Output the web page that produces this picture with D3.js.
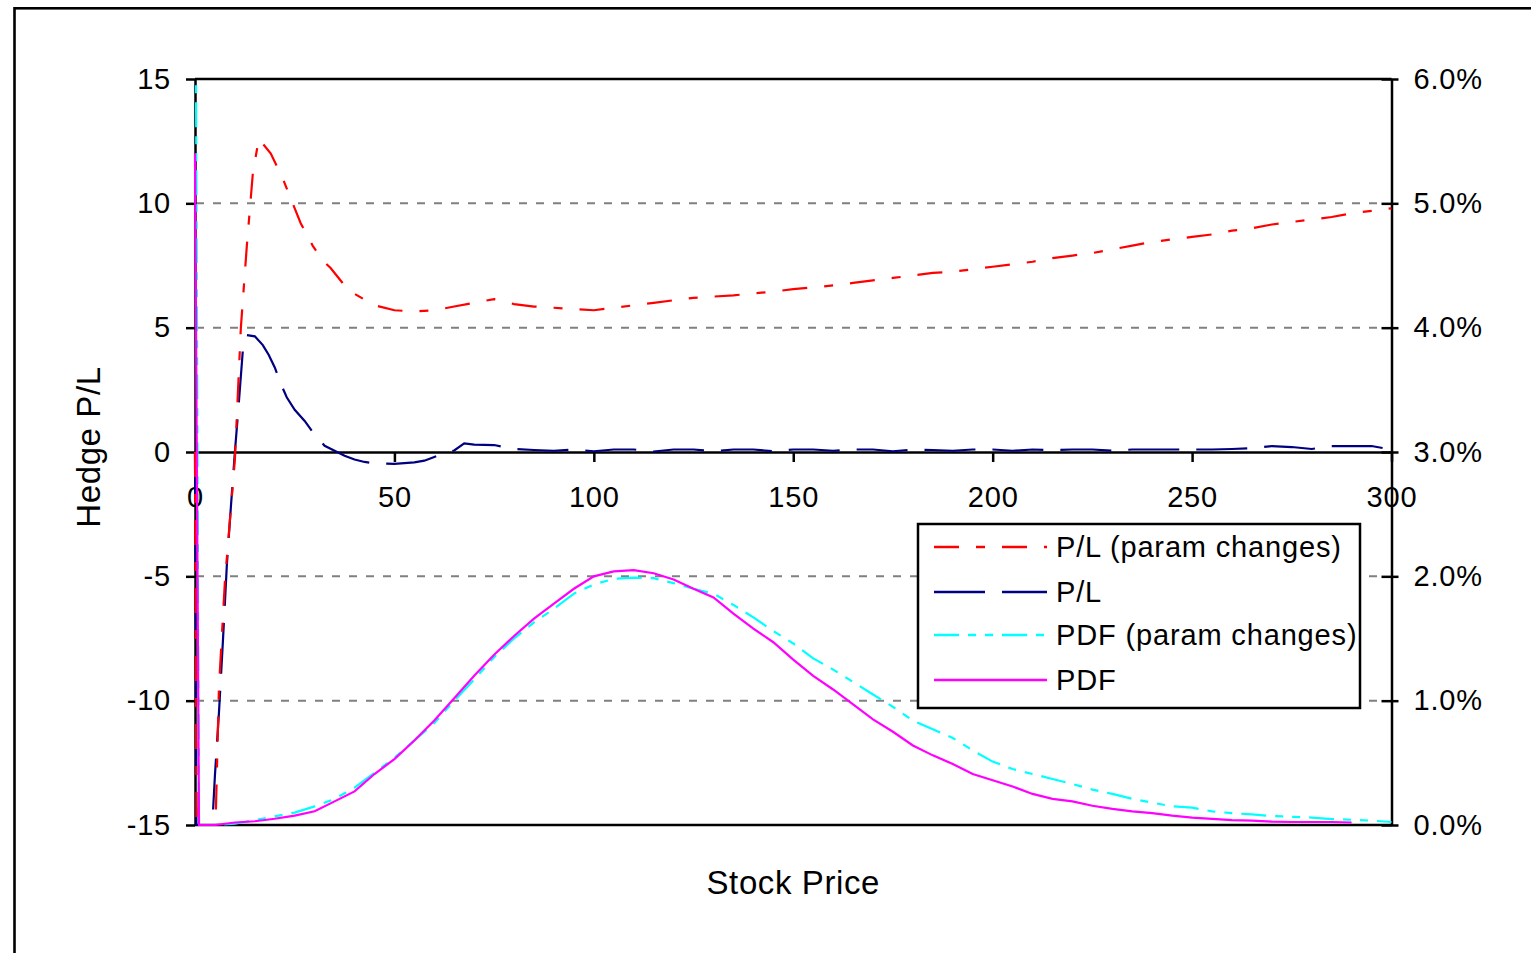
<!DOCTYPE html>
<html>
<head>
<meta charset="utf-8">
<script src="https://cdn.jsdelivr.net/npm/d3@7"></script>
<style>
  body { margin: 0; background: #fff; }
  svg text { font-family: "Liberation Sans", Arial, sans-serif; fill: #000; }
</style>
</head>
<body>
<div id="chart"></div>
<script>
// --- data ---
const pricesPLParam = [0, 1, 5, 6, 7.5, 10, 11.5, 13, 14.5, 16, 19, 22, 24, 26.5, 29.5, 32, 34, 38.5, 45, 50, 55, 60, 65, 70, 75,
  80, 85, 90, 95, 100, 105, 110, 115, 120, 125, 130, 135, 140, 145, 150, 155, 160, 165, 170, 175,
  180, 185, 190, 195, 200, 205, 210, 215, 220, 225, 230, 235, 240, 245, 250, 255, 260, 265, 270, 275,
  280, 285, 290, 295, 300];
const plParam = [0, -40, -16, -9.5, -5.2, -0.3, 5, 8.3, 11.2, 12.6, 12.0, 11.0, 10.2, 9.2, 8.3, 7.7, 7.4, 6.5, 5.9, 5.7, 5.65, 5.7, 5.85, 6.0, 6.15,
  5.95, 5.85, 5.8, 5.75, 5.7, 5.8, 5.9, 6.0, 6.1, 6.2, 6.25, 6.3, 6.38, 6.45, 6.55, 6.62, 6.7, 6.8, 6.9, 7.0,
  7.1, 7.2, 7.25, 7.35, 7.45, 7.55, 7.65, 7.8, 7.9, 8.0, 8.15, 8.3, 8.45, 8.55, 8.65, 8.75, 8.9, 9.0, 9.15, 9.25,
  9.35, 9.45, 9.6, 9.7, 9.8];

const pricesPL = [0, 1, 4, 5, 6, 7, 8, 9, 10, 11, 12, 13, 15, 17, 18.5, 20, 21.5, 23, 25, 27.5, 30, 32.5, 35, 37.5, 40, 42.5, 45,
  50, 55, 57.5, 60, 62.5, 65, 67.5, 70, 75, 80,
  85, 90, 95, 100, 105, 110, 115, 120, 125, 130, 135, 140, 145, 150, 155, 160, 165, 170, 175, 180,
  185, 190, 195, 200, 205, 210, 215, 220, 225, 230, 235, 240, 245, 250, 255, 260, 265, 270, 275, 280,
  285, 290, 295, 300];
const pl = [0, -40, -16, -13, -10.5, -7.6, -4.5, -2.2, 0, 2, 4.1, 4.7, 4.65, 4.3, 3.9, 3.4, 2.75, 2.2, 1.7, 1.25, 0.7, 0.25, 0.05, -0.15, -0.3, -0.4, -0.45,
  -0.48, -0.42, -0.35, -0.2, -0.05, 0.06, 0.35, 0.3, 0.28, 0.12,
  0.08, 0.05, 0.1, 0.03, 0.1, 0.1, 0.02, 0.1, 0.1, 0.03, 0.1, 0.1, 0.03, 0.1, 0.1, 0.05, 0.1, 0.1, 0.03, 0.1,
  0.08, 0.05, 0.1, 0.1, 0.05, 0.1, 0.08, 0.1, 0.1, 0.05, 0.1, 0.1, 0.1, 0.1, 0.1, 0.12, 0.15, 0.24, 0.2, 0.12,
  0.24, 0.24, 0.24, 0.1];

const pricesPDF = [0, 1, 5, 10, 15, 20, 25, 30, 35, 40, 45, 50, 55, 60, 65, 70, 75, 80, 85, 90, 95, 100,
  105, 110, 115, 120, 125, 130, 135, 140, 145, 150, 155, 160, 165, 170, 175, 180, 185, 190, 195, 200,
  205, 210, 215, 220, 225, 230, 235, 240, 245, 250, 255, 260, 265, 270, 275, 280, 285, 290, 295, 300];
// percent
const pdfParam = [8, 0, 0, 0.01, 0.04, 0.07, 0.1, 0.15, 0.21, 0.3, 0.42, 0.54, 0.68, 0.82, 1.0, 1.17, 1.35, 1.5, 1.63, 1.74, 1.86, 1.935,
  1.98, 1.99, 1.985, 1.945, 1.9, 1.86, 1.77, 1.67, 1.56, 1.46, 1.34, 1.25, 1.15, 1.05, 0.95, 0.84, 0.77, 0.7, 0.6, 0.51,
  0.45, 0.41, 0.37, 0.33, 0.285, 0.25, 0.21, 0.18, 0.15, 0.14, 0.11, 0.095, 0.085, 0.072, 0.066, 0.06, 0.048, 0.042, 0.035, 0.024];
const pdf = [5.4, 0, 0, 0.02, 0.03, 0.05, 0.075, 0.11, 0.19, 0.27, 0.41, 0.53, 0.68, 0.84, 1.02, 1.2, 1.37, 1.52, 1.66, 1.78, 1.9, 2.0,
  2.04, 2.05, 2.025, 1.975, 1.9, 1.83, 1.7, 1.58, 1.47, 1.33, 1.2, 1.09, 0.97, 0.85, 0.75, 0.64, 0.56, 0.49, 0.41, 0.36,
  0.31, 0.25, 0.21, 0.19, 0.155, 0.13, 0.11, 0.095, 0.075, 0.06, 0.05, 0.04, 0.035, 0.027, 0.024, 0.024, 0.024, 0.02, null, null];

const xTicks = [0, 50, 100, 150, 200, 250, 300];
const leftTicks = [-15, -10, -5, 0, 5, 10, 15];
const rightTicks = [0, 1, 2, 3, 4, 5, 6];
const gridValues = [-10, -5, 5, 10];
const legendNames = ["P/L (param changes)", "P/L", "PDF (param changes)", "PDF"];

// --- layout ---
const W = 1531, H = 953;
const pLeft = 195, pRight = 1391.5, pTop = 79, pBottom = 825;
const lineW = 2.2;

const svg = d3.select("#chart").append("svg")
  .attr("width", W)
  .attr("height", H);

// outer frame (runs off the right/bottom edges)
svg.append("rect")
  .attr("x", 14.5).attr("y", 8.3)
  .attr("width", 1600).attr("height", 1000)
  .attr("fill", "none").attr("stroke", "#000").attr("stroke-width", 2.6);

const x = d3.scaleLinear().domain([0, 300]).range([pLeft, pRight]);
const yL = d3.scaleLinear().domain([-15, 15]).range([pBottom, pTop]);
const yR = d3.scaleLinear().domain([0, 6]).range([pBottom, pTop]);

// gridlines
svg.append("g").selectAll("line")
  .data(gridValues)
  .enter().append("line")
  .attr("x1", pLeft + 1).attr("x2", 1379)
  .attr("y1", d => yL(d)).attr("y2", d => yL(d))
  .attr("stroke", "#808080").attr("stroke-width", 2)
  .attr("stroke-dasharray", "8,9");

// plot frame top/bottom
svg.append("line").attr("x1", pLeft).attr("x2", pRight).attr("y1", pTop).attr("y2", pTop)
  .attr("stroke", "#000").attr("stroke-width", 2.5);
svg.append("line").attr("x1", pLeft).attr("x2", pRight).attr("y1", pBottom).attr("y2", pBottom)
  .attr("stroke", "#000").attr("stroke-width", 2.5);

const styleAxis = (g) => {
  g.attr("font-size", 29).attr("font-family", '"Liberation Sans", Arial, sans-serif');
  g.selectAll("path, line").attr("stroke", "#000").attr("stroke-width", 2.5);
  g.selectAll("text").attr("fill", "#000").attr("letter-spacing", 0.8);
};

// left axis
svg.append("g")
  .attr("transform", `translate(${pLeft},0)`)
  .call(d3.axisLeft(yL).tickValues(leftTicks).tickSize(9).tickSizeOuter(0).tickPadding(15)
    .tickFormat(d => String(d)))
  .call(styleAxis);

// right axis
const rAxis = svg.append("g")
  .attr("transform", `translate(${pRight},0)`)
  .call(d3.axisRight(yR).tickValues(rightTicks).tickSize(7).tickSizeOuter(0).tickPadding(15)
    .tickFormat(d => d.toFixed(1) + "%"))
  .call(styleAxis);
rAxis.selectAll(".tick line").attr("x1", -10);

// x axis on the zero line
svg.append("g")
  .attr("transform", `translate(0,${yL(0)})`)
  .call(d3.axisBottom(x).tickValues(xTicks).tickSize(10).tickSizeOuter(0).tickPadding(24)
    .tickFormat(d => String(d)))
  .call(styleAxis);

// axis titles
svg.append("text")
  .attr("x", (pLeft + pRight) / 2).attr("y", 894)
  .attr("text-anchor", "middle")
  .attr("font-size", 33)
  .attr("letter-spacing", 0.6)
  .text("Stock Price");

svg.append("text")
  .attr("transform", "translate(100,447) rotate(-90)")
  .attr("text-anchor", "middle")
  .attr("font-size", 33)
  .attr("letter-spacing", 0.6)
  .text("Hedge P/L");

// series
svg.append("clipPath").attr("id", "plot")
  .append("rect").attr("x", pLeft - 2).attr("y", pTop - 1)
  .attr("width", pRight - pLeft + 3).attr("height", pBottom - pTop + 2);

const zip = (xs, ys) => xs.map((p, i) => [p, ys[i]]);
const lineL = d3.line().defined(d => d[1] != null).x(d => x(d[0])).y(d => yL(d[1]));
const lineR = d3.line().defined(d => d[1] != null).x(d => x(d[0])).y(d => yR(d[1]));

const series = [
  { data: zip(pricesPL, pl), line: lineL, color: "#000080", dash: "51,17" },
  { data: zip(pricesPLParam, plParam), line: lineL, color: "#ff0000", dash: "25,17,9,17" },
  { data: zip(pricesPDF, pdfParam), line: lineR, color: "#00ffff", dash: "25,9,8,9,8,9" },
  { data: zip(pricesPDF, pdf), line: lineR, color: "#ff00ff", dash: null }
];

const plotG = svg.append("g").attr("clip-path", "url(#plot)");
series.forEach(s => {
  plotG.append("path")
    .attr("d", s.line(s.data))
    .attr("fill", "none")
    .attr("stroke", s.color)
    .attr("stroke-width", lineW)
    .attr("stroke-dasharray", s.dash);
});

// legend
const legendOrder = [series[1], series[0], series[2], series[3]];
const lg = svg.append("g");
lg.append("rect")
  .attr("x", 918).attr("y", 524).attr("width", 442).attr("height", 184)
  .attr("fill", "#fff").attr("stroke", "#000").attr("stroke-width", 2.5);
const rowY = [547, 592, 635, 680];
legendNames.forEach((name, i) => {
  const s = legendOrder[i];
  lg.append("line")
    .attr("x1", 934).attr("x2", 1047)
    .attr("y1", rowY[i]).attr("y2", rowY[i])
    .attr("stroke", s.color).attr("stroke-width", 2.5)
    .attr("stroke-dasharray", s.dash);
  lg.append("text")
    .attr("x", 1056).attr("y", rowY[i])
    .attr("dy", "0.36em")
    .attr("font-size", 29)
    .attr("letter-spacing", 0.85)
    .text(name);
});
</script>
</body>
</html>
